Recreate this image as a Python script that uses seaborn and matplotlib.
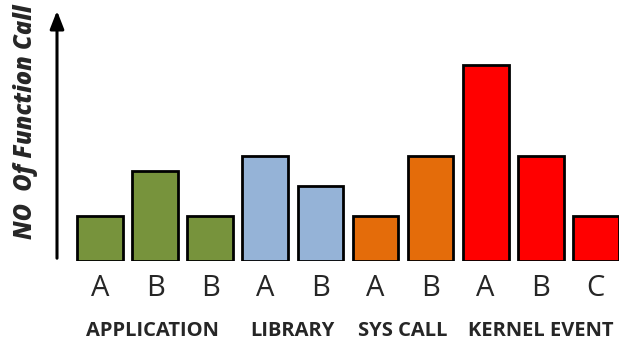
import matplotlib
matplotlib.use("Agg")
import matplotlib.pyplot as plt
import seaborn as sns
import pandas as pd

tick_labels = ["A", "B", "B", "A", "B", "A", "B", "A", "B", "C"]
values = [3, 6, 3, 7, 5, 3, 7, 13, 7, 3]
groups = ["APPLICATION"] * 3 + ["LIBRARY"] * 2 + ["SYS CALL"] * 2 + ["KERNEL EVENT"] * 3
group_names = ["APPLICATION", "LIBRARY", "SYS CALL", "KERNEL EVENT"]
group_colors = ["#77933C", "#95B3D7", "#E46C0A", "#FF0000"]

df = pd.DataFrame({"pos": list(range(len(values))), "value": values, "group": groups})

sns.set_theme(style="white")
plt.rcParams["font.family"] = ["Open Sans", "DejaVu Sans"]

fig = plt.figure(figsize=(6.19, 3.41), dpi=100)
ax = fig.add_axes([57 / 619, 1 - 261 / 341, (619 - 57) / 619, (261 - 8) / 341])

sns.barplot(data=df, x="pos", y="value", hue="group", hue_order=group_names,
            palette=group_colors, dodge=False, width=0.83, edgecolor="black",
            linewidth=2, legend=False, ax=ax, saturation=1)

ax.set_xlim(-0.78, 9.42)
ax.set_ylim(0, 16.8)
for s in ["top", "right", "bottom", "left"]:
    ax.spines[s].set_visible(False)
ax.set_yticks([])
ax.set_xticks(range(len(values)))
ax.set_xticklabels(tick_labels, fontsize=21)
ax.tick_params(axis="x", length=0, pad=9)
ax.set_xlabel("")
ax.set_ylabel("")

# y axis arrow
ax.annotate("", xy=(0, 1.0), xytext=(0, 0), xycoords="axes fraction",
            arrowprops=dict(arrowstyle="-|>,head_width=0.35,head_length=0.9",
                            color="black", lw=2.2), annotation_clip=False)

fig.text(26 / 619, 1 - 122 / 341, "NO  Of Function Call", rotation=90,
         ha="center", va="center", fontsize=17, fontweight="heavy",
         fontstyle="italic")

group_x = [0.95, 3.5, 5.5, 8.0]
for gx, name in zip(group_x, group_names):
    ax.text(gx, -0.275, name, transform=ax.get_xaxis_transform(), ha="center",
            va="center", fontsize=14.5, fontweight="bold")

fig.savefig("out.png", dpi=100)
